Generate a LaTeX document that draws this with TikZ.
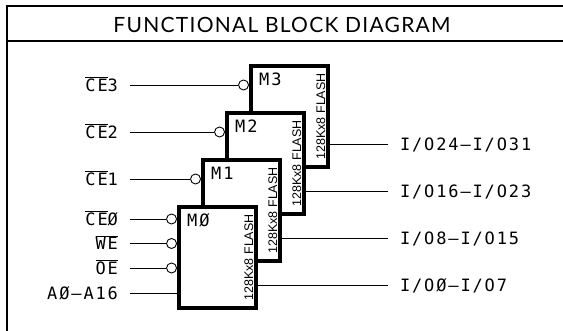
\documentclass[tikz,border=0pt]{standalone}
\usepackage{fontspec}
\newfontfamily\pinfont{DejaVu Sans Mono}[LetterSpace=11]
\newfontfamily\titlefont{Lato}[LetterSpace=6]
\newfontfamily\chipfont{Liberation Sans}
\usepackage{tikz}
\usetikzlibrary{positioning}
\tikzstyle{chip} = [draw, line width=3.8pt, fill=white, minimum width=77pt, minimum height=101pt, inner sep=0pt]
\tikzstyle{bubble} = [circle, draw, line width=0.9pt, minimum size=10pt, inner sep=0pt, fill=white]
\tikzstyle{sig} = [font=\pinfont\fontsize{17}{17}\selectfont, inner sep=0pt, outer xsep=12pt, text height=12.4pt, text depth=0pt]
\tikzstyle{chipname} = [font=\pinfont\fontsize{17}{17}\selectfont, inner sep=0pt, text height=12.4pt, text depth=0pt]
\tikzstyle{chiptext} = [font=\chipfont\fontsize{12.5}{12.5}\selectfont, inner sep=0pt, rotate=90]
\tikzstyle{wire} = [line width=0.9pt]
\newcommand{\negsig}[1]{$\overline{\mbox{#1}}$}

\begin{document}
\begin{tikzpicture}[x=1pt, y=-1pt, node distance=1cm]
        \clip (0,0) rectangle (563,331);
        \draw [line width=1.8pt] (7,6) rectangle (590,360);
        \draw [line width=1.8pt] (7,41) -- (590,41);
        \node (title) [font=\titlefont\fontsize{21}{21}\selectfont] at (282,25) {FUNCTIONAL BLOCK DIAGRAM};

        \coordinate (inx) at (130,0);
        \coordinate (outx) at (388,0);

        \node (M3) [chip, anchor=north west] at (249,64) {};
        \node (M2) [chip, anchor=north west] at ([shift={(-24,47)}]M3.north west) {};
        \node (M1) [chip, anchor=north west] at ([shift={(-24,47)}]M2.north west) {};
        \node (M0) [chip, anchor=north west] at ([shift={(-24,47)}]M1.north west) {};

        \node (M3n) [chipname, below right=9pt and 10pt of M3.north west] {M3};
        \node (M2n) [chipname, below right=9pt and 10pt of M2.north west] {M2};
        \node (M1n) [chipname, below right=9pt and 10pt of M1.north west] {M1};
        \node (M0n) [chipname, below right=9pt and 10pt of M0.north west] {MØ};

        \node (M3t) [chiptext] at ([xshift=-9pt]M3.east) {128Kx8 FLASH};
        \node (M2t) [chiptext] at ([xshift=-9pt]M2.east) {128Kx8 FLASH};
        \node (M1t) [chiptext] at ([xshift=-9pt]M1.east) {128Kx8 FLASH};
        \node (M0t) [chiptext] at ([xshift=-9pt]M0.east) {128Kx8 FLASH};

        \node (b3) [bubble, anchor=east] at ([yshift=-21pt]M3.north west) {};
        \node (b2) [bubble, anchor=east] at ([yshift=-21pt]M2.north west) {};
        \node (b1) [bubble, anchor=east] at ([yshift=-21pt]M1.north west) {};
        \node (b0) [bubble, anchor=east] at ([yshift=-14pt]M0.north west) {};
        \node (bwe) [bubble, anchor=east] at ([yshift=-38.5pt]M0.north west) {};
        \node (boe) [bubble, anchor=east] at ([yshift=-63pt]M0.north west) {};
        \coordinate (addr) at ([yshift=-88pt]M0.north west);

        \node (ce3) [sig, anchor=east] at (inx |- b3) {\negsig{CE}3};
        \node (ce2) [sig, anchor=east] at (inx |- b2) {\negsig{CE}2};
        \node (ce1) [sig, anchor=east] at (inx |- b1) {\negsig{CE}1};
        \node (ce0) [sig, anchor=east] at (inx |- b0) {\negsig{CE}Ø};
        \node (we) [sig, anchor=east] at (inx |- bwe) {\negsig{WE}};
        \node (oe) [sig, anchor=east] at (inx |- boe) {\negsig{OE}};
        \node (adr) [sig, anchor=east] at (inx |- addr) {AØ–A16};

        \draw [wire] (ce3.east) -- (b3.west);
        \draw [wire] (ce2.east) -- (b2.west);
        \draw [wire] (ce1.east) -- (b1.west);
        \draw [wire] (ce0.east) -- (b0.west);
        \draw [wire] (we.east) -- (bwe.west);
        \draw [wire] (oe.east) -- (boe.west);
        \draw [wire] (adr.east) -- (addr);

        \coordinate (o3) at ([yshift=-80pt]M3.north east);
        \coordinate (o2) at ([yshift=-80pt]M2.north east);
        \coordinate (o1) at ([yshift=-80pt]M1.north east);
        \coordinate (o0) at ([yshift=-80pt]M0.north east);

        \node (io3) [sig, anchor=west] at (outx |- o3) {I/O24–I/O31};
        \node (io2) [sig, anchor=west] at (outx |- o2) {I/O16–I/O23};
        \node (io1) [sig, anchor=west] at (outx |- o1) {I/O8–I/O15};
        \node (io0) [sig, anchor=west] at (outx |- o0) {I/OØ–I/O7};

        \draw [wire] (o3) -- (io3.west);
        \draw [wire] (o2) -- (io2.west);
        \draw [wire] (o1) -- (io1.west);
        \draw [wire] (o0) -- (io0.west);
    \end{tikzpicture}
\end{document}
